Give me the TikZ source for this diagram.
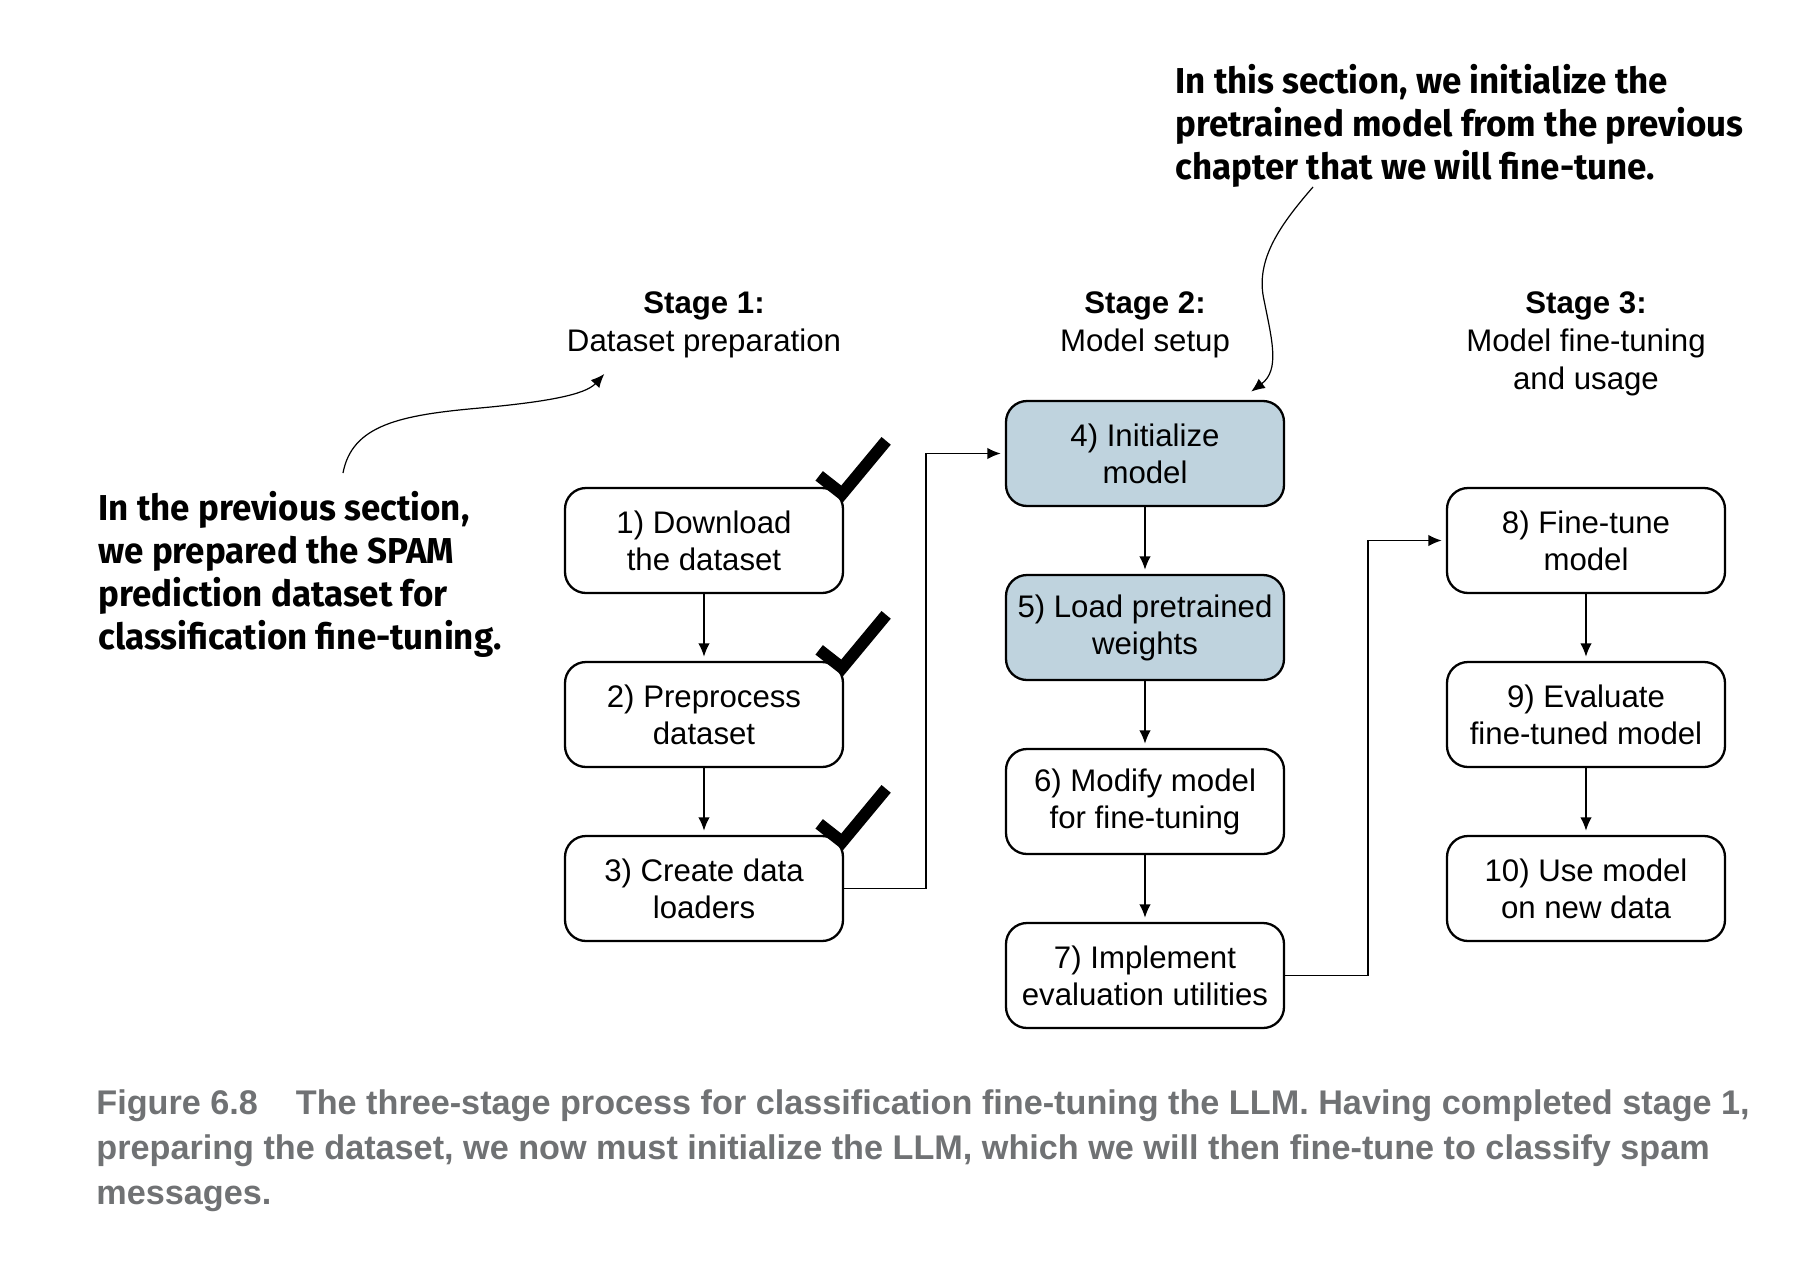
\documentclass[tikz,border=0pt]{standalone}
\usepackage{fontspec}
\setmainfont{Liberation Sans}
\newfontfamily\notefont{Fira Sans}[FakeStretch=0.97]
\newfontfamily\capfont{Liberation Sans}
\usepackage{tikz}
\usetikzlibrary{arrows.meta,positioning}
\definecolor{initblue}{RGB}{191,211,222}
\definecolor{capgray}{RGB}{112,114,116}

\begin{document}
\begin{tikzpicture}[x=0.5pt,y=-0.5pt,>={Latex[length=6.8pt,width=5.8pt]},shorten >=2pt,
  node distance=87pt,
  task node/.style={draw,rounded corners=10.5pt,line width=1.15pt,fill=white,minimum width=139pt,
    minimum height=52.5pt,inner sep=2pt,align=center,font=\fontsize{15.6}{18.5}\selectfont},
  init node/.style={task node,fill=initblue},
  stage node/.style={anchor=north,inner sep=0pt,align=center,font=\fontsize{15.6}{19}\selectfont},
  note node/.style={anchor=north west,inner sep=0pt,align=left,font=\notefont\bfseries\fontsize{18}{21.5}\selectfont},
  link/.style={draw,->,line width=0.85pt},
  check mark/.style={line width=6pt,line join=miter,miter limit=10,shorten >=0pt}]
  \useasboundingbox (0,0) rectangle (1806,1264);
  \fill[white] (0,0) rectangle (1806,1264);

  % stage headings
  \node[stage node] (s1) at (704,291) {\textbf{Stage 1:}\\Dataset preparation};
  \node[stage node] (s2) at (1145,291) {\textbf{Stage 2:}\\Model setup};
  \node[stage node] (s3) at (1586,291) {\textbf{Stage 3:}\\Model fine-tuning\\and usage};

  % steps
  \node[task node] (1) at (704,540.5) {1) Download\\the dataset};
  \node[task node] (2) [below of=1] {2) Preprocess\\dataset};
  \node[task node] (3) [below of=2] {3) Create data\\loaders};
  \node[init node] (4) at (1145,453.5) {4) Initialize\\model};
  \node[init node] (5) [below of=4] {5) Load pretrained\\weights};
  \node[task node] (6) [below of=5] {6) Modify model\\for fine-tuning};
  \node[task node] (7) [below of=6] {7) Implement\\evaluation utilities};
  \node[task node] (8) at (1586,540.5) {8) Fine-tune\\model};
  \node[task node] (9) [below of=8] {9) Evaluate\\fine-tuned model};
  \node[task node] (10) [below of=9] {10) Use model\\on new data};

  \path[link]
    (1) edge (2)
    (2) edge (3)
    (4) edge (5)
    (5) edge (6)
    (6) edge (7)
    (8) edge (9)
    (9) edge (10);
  \draw[link] (3.east) -- ++(82,0) |- (4.west);
  \draw[link] (7.east) -- ++(83,0) |- (8.west);

  % done marks
  \foreach \n in {1,2,3}
    \draw[check mark,shift={(\n.north east)}] (-25,-11) -- (-2,7) -- (42,-46);

  % callouts
  \node[note node] (n1) at (98,491) {In the previous section,\\we prepared the SPAM\\prediction dataset for\\classification fine-tuning.};
  \node[note node] (n2) at (1175,64) {In this section, we initialize the\\pretrained model from the previous\\chapter that we will fine-tune.};
  \coordinate (c1) at (343,473);
  \coordinate (t1) at (607,371);
  \coordinate (c2) at (1313,187);
  \coordinate (t2) at (1248,394);
  \draw[->,line width=0.6pt] (c1) .. controls (352,425) and (400,415) .. (480,408)
    .. controls (545,402) and (585,395) .. (t1);
  \draw[->,line width=0.6pt] (c2) .. controls (1280,225) and (1255,260) .. (1264,300)
    .. controls (1272,340) and (1280,370) .. (t2);

  % caption
  \node[anchor=north west,inner sep=0pt,align=left,text=capgray,
    font=\capfont\bfseries\fontsize{17.1}{22.5}\selectfont] (cap) at (96,1089)
    {Figure 6.8\hspace{19pt}The three-stage process for classification fine-tuning the LLM. Having completed stage 1,\\
     preparing the dataset, we now must initialize the LLM, which we will then fine-tune to classify spam\\
     messages.};
\end{tikzpicture}
\end{document}
